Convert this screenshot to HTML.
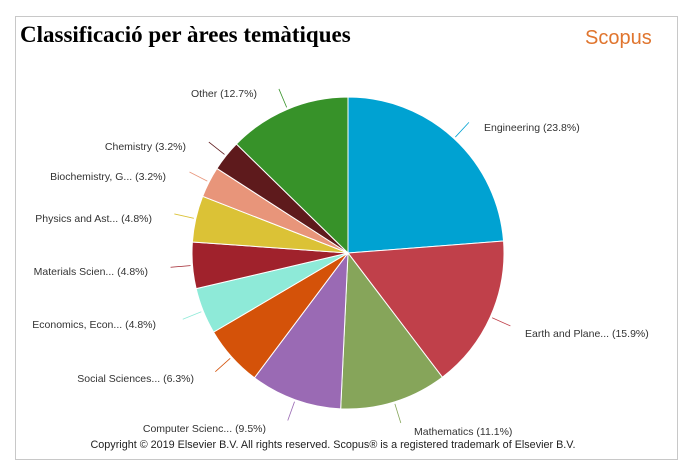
<!DOCTYPE html>
<html><head><meta charset="utf-8"><style>
body{margin:0;background:#fff;width:693px;height:476px;overflow:hidden;position:relative;font-family:"Liberation Sans",sans-serif}
#frame{position:absolute;left:15px;top:16px;width:663px;height:444px;border:1px solid #c8c8c8;box-sizing:border-box}
#title{position:absolute;left:20px;top:22px;font-family:"Liberation Serif",serif;font-weight:bold;font-size:23px;color:#000}
#scopus{position:absolute;left:585px;top:27px;font-size:20px;color:#e0752e}
svg{position:absolute;left:0;top:0}
</style></head><body>
<div id="frame"></div>
<div id="title">Classificació per àrees temàtiques</div>
<div id="scopus">Scopus</div>
<svg id="s" width="693" height="476" font-family="Liberation Sans, sans-serif" font-size="10.5" fill="#333">
<g id="pie"></g>
<text x="191" y="97">Other (12.7%)</text>
<text x="484" y="131">Engineering (23.8%)</text>
<text x="525" y="337">Earth and Plane... (15.9%)</text>
<text x="414" y="435">Mathematics (11.1%)</text>
<text x="266" y="432" text-anchor="end">Computer Scienc... (9.5%)</text>
<text x="194" y="382" text-anchor="end">Social Sciences... (6.3%)</text>
<text x="156" y="328" text-anchor="end">Economics, Econ... (4.8%)</text>
<text x="148" y="275" text-anchor="end">Materials Scien... (4.8%)</text>
<text x="152" y="222" text-anchor="end">Physics and Ast... (4.8%)</text>
<text x="166" y="180" text-anchor="end">Biochemistry, G... (3.2%)</text>
<text x="186" y="150" text-anchor="end">Chemistry (3.2%)</text>
<text x="333" y="448" text-anchor="middle" fill="#222" font-size="10.8">Copyright © 2019 Elsevier B.V. All rights reserved. Scopus® is a registered trademark of Elsevier B.V.</text>
</svg>
<script>
var d=[[23.8,"#00a2d2"],[15.9,"#c0404a"],[11.1,"#86a55a"],[9.5,"#9a6ab4"],[6.3,"#d45209"],[4.8,"#8eead8"],[4.8,"#a0222c"],[4.8,"#dbc236"],[3.2,"#e8957a"],[3.2,"#5e1a1c"],[12.7,"#379229"]];
var cx=348,cy=253,r=156,a=0,g=document.getElementById("pie"),h="",L="";
function p(an,rr){return [cx+rr*Math.sin(an),cy-rr*Math.cos(an)];}
d.forEach(function(e){var b=a+e[0]/100.1*2*Math.PI;var s=p(a,r),t=p(b,r);
h+='<path d="M'+cx+','+cy+'L'+s[0]+','+s[1]+'A'+r+','+r+' 0 '+(b-a>Math.PI?1:0)+' 1 '+t[0]+','+t[1]+'Z" fill="'+e[1]+'" stroke="#fff" stroke-width="1"/>';
var m=(a+b)/2,u=p(m,r+2),v=p(m,r+22);L+='<line x1="'+u[0]+'" y1="'+u[1]+'" x2="'+v[0]+'" y2="'+v[1]+'" stroke="'+e[1]+'" stroke-width="0.8"/>';a=b;});
g.innerHTML=h+L;
</script>
</body></html>
